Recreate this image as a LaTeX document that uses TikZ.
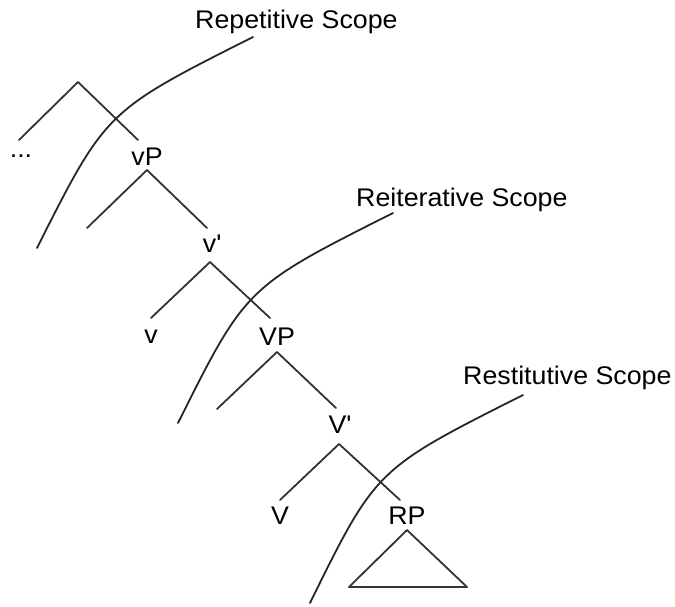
\documentclass[tikz,border=0pt]{standalone}
\usepackage{fontspec}
\setmainfont{Liberation Sans}[FakeStretch=1.05]
\begin{document}
\begin{tikzpicture}[x=1pt,y=-1pt,
  branch/.style={draw=black!80,line width=1.8pt,line cap=round,line join=round},
  scopeline/.style={draw=black!85,line width=1.8pt,line cap=round},
  lbl/.style={inner sep=0pt,anchor=base,font=\fontsize{25.5}{30}\selectfont},
  scopelbl/.style={lbl,anchor=base west}]
\useasboundingbox (0,0) rectangle (675,606);

% labels of the tree
\node[lbl] (dots) at (21,157) {...};
\node[lbl] (vP)   at (147,165) {vP};
\node[lbl] (vbar) at (212,252) {v\textquotesingle};
\node[lbl] (v)    at (151,343) {v};
\node[lbl] (VP)   at (277,345) {VP};
\node[lbl] (Vbar) at (340,433) {V\textquotesingle};
\node[lbl] (V)    at (280,524) {V};
\node[lbl] (RP)   at (407,524) {RP};

% scope labels
\node[scopelbl] (rep)  at (195,28)  {Repetitive Scope};
\node[scopelbl] (reit) at (356,206) {Reiterative Scope};
\node[scopelbl] (rest) at (463,384) {Restitutive Scope};

% branching points and branch ends
\coordinate (top)   at (78,82);
\coordinate (topL)  at (19,140);
\coordinate (topR)  at (138,140);
\coordinate (vPt)   at (147,170);
\coordinate (vPL)   at (87,228);
\coordinate (vPR)   at (207,228);
\coordinate (vbt)   at (210,262);
\coordinate (vbL)   at (151,318);
\coordinate (vbR)   at (270,318);
\coordinate (VPt)   at (277,352);
\coordinate (VPL)   at (217,409);
\coordinate (VPR)   at (336,408);
\coordinate (Vbt)   at (339,444);
\coordinate (VbL)   at (280,500);
\coordinate (VbR)   at (400,500);
\coordinate (RPt)   at (407,530);
\coordinate (triL)  at (349,587);
\coordinate (triR)  at (467,587);

% tree branches
\draw[branch] (topL) -- (top) -- (topR);
\draw[branch] (vPL) -- (vPt) -- (vPR);
\draw[branch] (vbL) -- (vbt) -- (vbR);
\draw[branch] (VPL) -- (VPt) -- (VPR);
\draw[branch] (VbL) -- (Vbt) -- (VbR);
\draw[branch] (RPt) -- (triL) -- (triR) -- cycle;

% scope boundaries
\coordinate (s1) at (253,37);  \coordinate (c1) at (106,111); \coordinate (e1) at (37,248);
\coordinate (s2) at (393,213); \coordinate (c2) at (246,287); \coordinate (e2) at (178,423);
\coordinate (s3) at (523,395); \coordinate (c3) at (376,469); \coordinate (e3) at (310,603);
\draw[scopeline] (s1) .. controls (c1) and (c1) .. (e1);
\draw[scopeline] (s2) .. controls (c2) and (c2) .. (e2);
\draw[scopeline] (s3) .. controls (c3) and (c3) .. (e3);
\end{tikzpicture}
\end{document}
